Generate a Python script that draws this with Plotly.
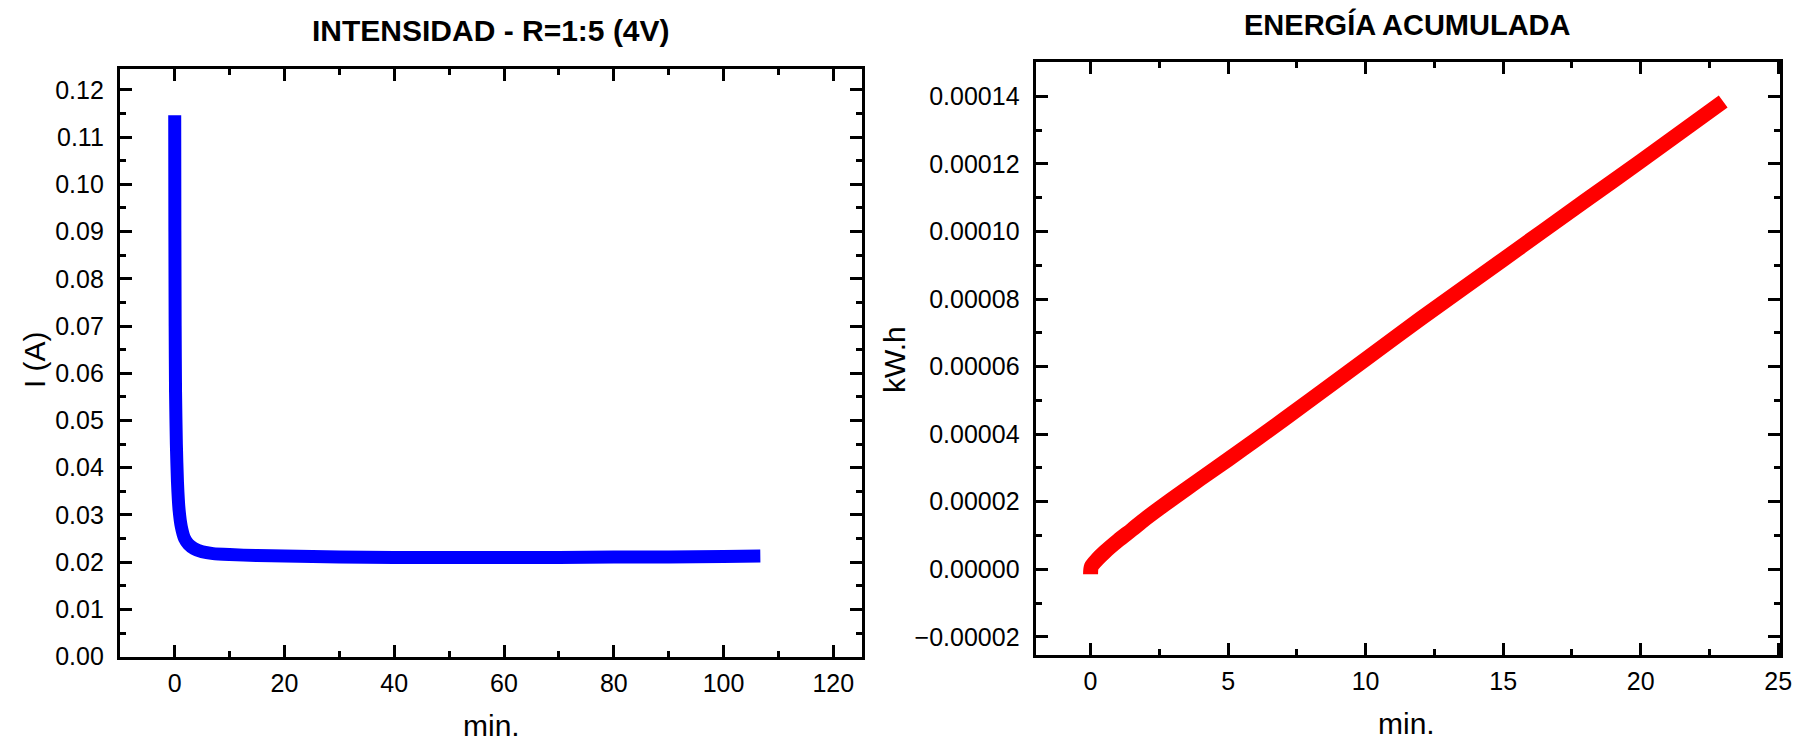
import plotly.graph_objects as go

# ---- data: left panel (current vs time) ----
t_current = [0, 0.03, 0.08, 0.15, 0.3, 0.5, 0.8, 1.2, 1.8, 2.5, 3.5, 5.0, 7.0, 10, 15, 20, 30, 40, 50, 60, 70, 80, 90, 100, 106.7]
i_current = [0.1146, 0.090, 0.070, 0.056, 0.045, 0.037, 0.031, 0.0275, 0.0250, 0.0238, 0.0229, 0.0222, 0.0218, 0.0216,
             0.0214, 0.0213, 0.0211, 0.0210, 0.0210, 0.0210, 0.0210, 0.0211, 0.0211, 0.0212, 0.0213]

# ---- data: right panel (accumulated energy vs time) ----
t_energy = [0, 0.03, 0.25, 0.5, 1.0, 1.5, 2.0, 3.0, 4.0, 5.0, 6.0, 8.0, 10, 12, 15, 18, 20, 23]
e_energy = [-0.0000015, 0.0000008, 0.000003, 0.000005, 0.0000085, 0.0000117, 0.000015, 0.000021, 0.0000268, 0.0000325,
            0.0000383, 0.0000502, 0.0000622, 0.0000742, 0.0000917, 0.0001092, 0.0001208, 0.0001385]

titles = ["INTENSIDAD - R=1:5 (4V)", "ENERGÍA ACUMULADA"]
x_title = "min."
y_titles = ["I (A)", "kW.h"]

FONT = "Liberation Sans, Arial, sans-serif"

fig = go.Figure()
fig.add_trace(go.Scatter(x=t_current, y=i_current, mode="lines",
                         line=dict(color="#0000FF", width=13, shape="spline", smoothing=0.6),
                         xaxis="x", yaxis="y", showlegend=False))
fig.add_trace(go.Scatter(x=t_energy, y=e_energy, mode="lines",
                         line=dict(color="#FF0000", width=15, shape="spline", smoothing=0.8),
                         xaxis="x2", yaxis="y2", showlegend=False))

common = dict(showgrid=False, zeroline=False, showline=True, linewidth=3, linecolor="black",
              mirror="allticks", ticks="inside", ticklen=12, tickwidth=3, tickcolor="black",
              tickfont=dict(family=FONT, size=25, color="black"))
minor_common = dict(ticklen=6, tickwidth=3, ticks="inside", tickcolor="black")

fig.update_layout(
    width=1811, height=750, autosize=False,
    margin=dict(l=0, r=0, t=0, b=0),
    paper_bgcolor="white", plot_bgcolor="white",
    xaxis=dict(domain=[0.0622, 0.4749], range=[-10, 125.2], tick0=0, dtick=20,
               minor=dict(dtick=10, **minor_common),
               anchor="y", ticklabelstandoff=2, **common),
    yaxis=dict(domain=[0.1187, 0.9177], range=[0, 0.1245], tick0=0, dtick=0.01, tickformat=".2f",
               minor=dict(dtick=0.005, **minor_common),
               anchor="x", ticklabelstandoff=8, **common),
    xaxis2=dict(domain=[0.5715, 0.9853], range=[-2, 25.05], tick0=0, dtick=5,
                minor=dict(dtick=2.5, **minor_common),
                anchor="y2", ticklabelstandoff=2, **common),
    yaxis2=dict(domain=[0.1213, 0.9267], range=[-0.0000253, 0.0001502], tick0=0, dtick=0.00002,
                tickformat=".5f",
                minor=dict(dtick=0.00001, **minor_common),
                anchor="x2", ticklabelstandoff=8, **common),
)

ann = []
ann.append(dict(text="<b>%s</b>" % titles[0], x=0.2684, y=1 - 23 / 750, xref="paper", yref="paper",
                showarrow=False, xanchor="center", yanchor="middle",
                font=dict(family=FONT, size=30, color="black")))
ann.append(dict(text="<b>%s</b>" % titles[1], x=0.7786, y=1 - 17 / 750, xref="paper", yref="paper",
                showarrow=False, xanchor="center", yanchor="middle",
                font=dict(family=FONT, size=29, color="black")))
ann.append(dict(text=x_title, x=0.2688, y=1 - 731 / 750, xref="paper", yref="paper",
                showarrow=False, xanchor="center", yanchor="middle",
                font=dict(family=FONT, size=30, color="black")))
ann.append(dict(text=x_title, x=0.778, y=1 - 729 / 750, xref="paper", yref="paper",
                showarrow=False, xanchor="center", yanchor="middle",
                font=dict(family=FONT, size=30, color="black")))
ann.append(dict(text=y_titles[0], x=27 / 1811, y=1 - 358 / 750, xref="paper", yref="paper",
                showarrow=False, xanchor="center", yanchor="middle", textangle=-90,
                font=dict(family=FONT, size=30, color="black")))
ann.append(dict(text=y_titles[1], x=893 / 1811, y=1 - 358 / 750, xref="paper", yref="paper",
                showarrow=False, xanchor="center", yanchor="middle", textangle=-90,
                font=dict(family=FONT, size=30, color="black")))
fig.update_layout(annotations=ann)

fig.write_html("out.html")
